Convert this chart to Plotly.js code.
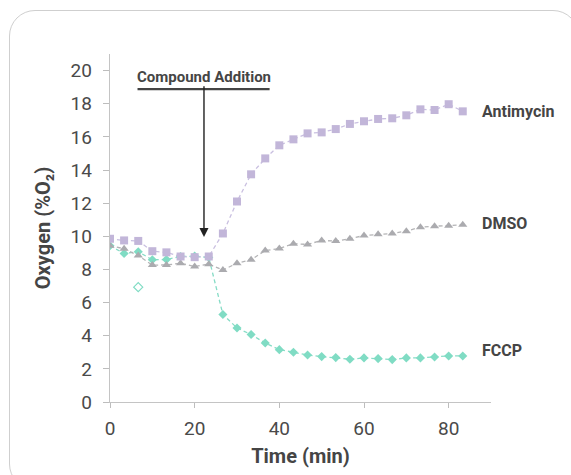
<!DOCTYPE html>
<html>
<head>
<meta charset="utf-8">
<script src="https://cdn.plot.ly/plotly-3.0.1.min.js"></script>
<style>
  html, body { margin:0; padding:0; background:#ffffff; width:571px; height:475px; overflow:hidden; }
  #card { position:absolute; left:9px; top:10px; width:570px; height:480px; border:1.2px solid #cfcfcf; border-radius:26px; box-sizing:border-box; }
  #chart { position:absolute; left:0; top:0; width:571px; height:475px; }
</style>
</head>
<body>
<div id="card"></div>
<div id="chart"></div>
<script>
// ---- data ----
var timeMin = [0, 3.33, 6.67, 10, 13.33, 16.67, 20, 23.33, 26.67, 30, 33.33, 36.67, 40, 43.33, 46.67, 50, 53.33, 56.67, 60, 63.33, 66.67, 70, 73.33, 76.67, 80, 83.33];
var antimycin = [9.85, 9.75, 9.72, 9.1, 9.03, 8.78, 8.74, 8.78, 10.17, 12.1, 13.74, 14.7, 15.49, 15.85, 16.21, 16.27, 16.47, 16.78, 16.94, 17.08, 17.12, 17.3, 17.66, 17.62, 17.97, 17.54];
var dmso = [9.43, 9.25, 8.84, 8.26, 8.27, 8.37, 8.18, 8.32, 7.96, 8.38, 8.58, 9.14, 9.26, 9.55, 9.51, 9.75, 9.71, 9.85, 10.05, 10.13, 10.17, 10.31, 10.55, 10.61, 10.63, 10.69];
var fccp = [9.43, 8.96, 9.07, 8.58, 8.6, 8.78, 8.8, 8.72, 5.28, 4.47, 4.07, 3.56, 3.16, 3.0, 2.84, 2.74, 2.68, 2.58, 2.66, 2.62, 2.56, 2.66, 2.66, 2.72, 2.78, 2.78];
var fccpOutlierTime = [6.67];
var fccpOutlier = [6.93];
var seriesNames = ['Antimycin', 'DMSO', 'FCCP'];
var yTicks = [0, 2, 4, 6, 8, 10, 12, 14, 16, 18, 20];
var xTicks = [0, 20, 40, 60, 80];
var additionTime = 22.2;

// ---- styles ----
var cPurple = '#c2b6d9', cPurpleLine = '#c9bfe0';
var cGray = '#ababaf', cGrayLine = '#b4b4b6';
var cTeal = '#80dcc4', cTealLine = '#86dcc6';
var txt = '#454545';
var dashPat = '4px,3px';

var traces = [
  { x: timeMin, y: fccp, name: seriesNames[2], mode: 'lines+markers',
    line: { color: cTealLine, width: 1.3, dash: dashPat },
    marker: { symbol: 'diamond', size: 7, color: cTeal } },
  { x: fccpOutlierTime, y: fccpOutlier, name: 'FCCP outlier', mode: 'markers',
    marker: { symbol: 'diamond-open', size: 7, color: cTeal, line: { width: 1.2 } } },
  { x: timeMin, y: dmso, name: seriesNames[1], mode: 'lines+markers',
    line: { color: cGrayLine, width: 1.3, dash: dashPat },
    marker: { symbol: 'triangle-up', size: 8, color: cGray } },
  { x: timeMin, y: antimycin, name: seriesNames[0], mode: 'lines+markers',
    line: { color: cPurpleLine, width: 1.3, dash: dashPat },
    marker: { symbol: 'square', size: 8, color: cPurple } }
];

var fontFam = 'Roboto, "Open Sans", sans-serif';
var lastIdx = timeMin.length - 1;

var layout = {
  width: 571, height: 475,
  margin: { l: 110, r: 80, t: 54, b: 73, pad: 0 },
  paper_bgcolor: 'rgba(0,0,0,0)',
  plot_bgcolor: 'rgba(0,0,0,0)',
  showlegend: false,
  font: { family: fontFam, color: txt },
  xaxis: {
    range: [0, 90], tickvals: xTicks, ticktext: xTicks.map(String),
    ticks: 'outside', ticklen: 5, tickwidth: 1, tickcolor: '#bdbdbd',
    showline: true, linecolor: '#c4c4c4', linewidth: 1.3,
    showgrid: false, zeroline: false, ticklabelstandoff: 4,
    tickfont: { family: fontFam, size: 19, color: '#4a4a4a' },
    title: { text: 'Time (min)', font: { family: fontFam, size: 20, weight: 'bold', color: txt }, standoff: 10 }
  },
  yaxis: {
    range: [0, 21], tickvals: yTicks, ticktext: yTicks.map(String),
    ticks: 'outside', ticklen: 6, tickwidth: 1, tickcolor: '#bdbdbd',
    showline: true, linecolor: '#c4c4c4', linewidth: 1.3,
    showgrid: false, zeroline: false, ticklabelstandoff: 7,
    tickfont: { family: fontFam, size: 19, color: '#4a4a4a' },
    title: { text: 'Oxygen (%O\u2082)', font: { family: fontFam, size: 20, weight: 'bold', color: txt }, standoff: 14 }
  },
  shapes: [
    { type: 'line', xref: 'x', yref: 'y', x0: 6.5, x1: 37.7, y0: 18.88, y1: 18.88,
      line: { color: '#444444', width: 2.2 } }
  ],
  annotations: [
    { x: additionTime, y: 9.95, xref: 'x', yref: 'y', ax: additionTime, ay: 19.62, axref: 'x', ayref: 'y',
      text: 'Compound Addition', showarrow: true, arrowhead: 2, arrowsize: 1.3, arrowwidth: 1.4, arrowcolor: '#222222',
      borderpad: 0, font: { family: fontFam, size: 15, weight: 'bold', color: txt } },
    { x: 87.3, y: antimycin[lastIdx], xref: 'x', yref: 'y', text: seriesNames[0], showarrow: false,
      xanchor: 'left', font: { family: fontFam, size: 16, weight: 'bold', color: txt } },
    { x: 87.3, y: 10.8, xref: 'x', yref: 'y', text: seriesNames[1], showarrow: false,
      xanchor: 'left', font: { family: fontFam, size: 16, weight: 'bold', color: txt } },
    { x: 87.3, y: 3.1, xref: 'x', yref: 'y', text: seriesNames[2], showarrow: false,
      xanchor: 'left', font: { family: fontFam, size: 16, weight: 'bold', color: txt } }
  ]
};

Plotly.newPlot('chart', traces, layout, { displayModeBar: false, staticPlot: true });
</script>
</body>
</html>
